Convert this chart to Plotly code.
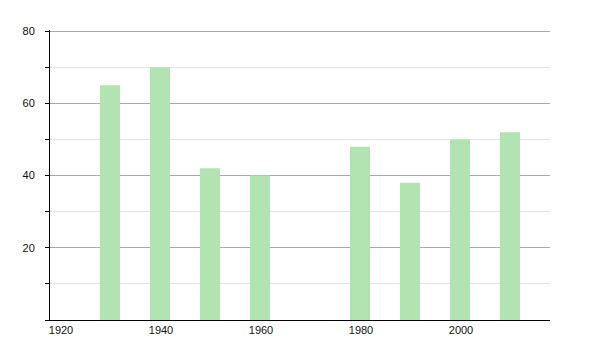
import plotly.graph_objects as go

years = [1930, 1940, 1950, 1960, 1980, 1990, 2000, 2010]
values = [65, 70, 42, 40, 48, 38, 50, 52]
x_ticks = [1920, 1940, 1960, 1980, 2000]
x_labels = ["1920", "1940", "1960", "1980", "2000"]
y_ticks = [20, 40, 60, 80]
y_labels = ["20", "40", "60", "80"]

fig = go.Figure()
fig.add_trace(go.Bar(
    x=years, y=values, width=4, offset=0,
    marker=dict(color="#b1e4b1", line=dict(width=0)),
    hoverinfo="x+y",
))

fig.update_layout(
    width=600, height=350,
    margin=dict(l=50, r=50, t=30, b=30),
    paper_bgcolor="white", plot_bgcolor="white",
    showlegend=False,
    font=dict(family="Liberation Sans, Arial, sans-serif", size=11, color="#111"),
    xaxis=dict(
        range=[1920, 2020], tickmode="array", tickvals=x_ticks, ticktext=x_labels,
        showgrid=False, zeroline=False, showline=True, linecolor="black", linewidth=1,
        ticks="", ticklabelshift=11, ticklabelstandoff=0,
    ),
    yaxis=dict(
        range=[0, 80.3], tickmode="array", tickvals=y_ticks, ticktext=y_labels,
        showgrid=True, gridcolor="#aaaaaa", gridwidth=1, zeroline=False,
        showline=True, linecolor="black", linewidth=1,
        ticks="outside", ticklen=4, tickcolor="black", ticklabelstandoff=8,
        minor=dict(tickmode="linear", tick0=0, dtick=10, showgrid=True,
                   gridcolor="#e3e3e3", gridwidth=1, ticks="outside", ticklen=4,
                   tickcolor="black"),
    ),
)

fig.write_html("out.html")
